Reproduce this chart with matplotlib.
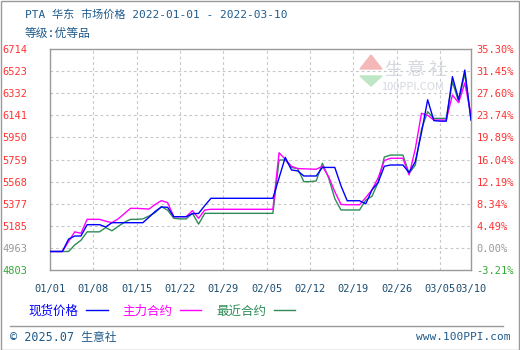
import numpy as np
import pandas as pd
import matplotlib
matplotlib.use('Agg')
import matplotlib.pyplot as plt
from matplotlib.patches import Rectangle, Polygon
from matplotlib.lines import Line2D

plt.rcParams['font.family'] = ['Noto Sans CJK SC', 'DejaVu Sans']
MONO = ['DejaVu Sans Mono', 'Noto Sans CJK SC']

# daily values 2022-01-01 .. 2022-03-10
dates = pd.date_range('2022-01-01', '2022-03-10', freq='D')
spot = [4963, 4963, 4963, 5070, 5097, 5097, 5195, 5195, 5195, 5175,
        5212, 5212, 5212, 5212, 5212, 5212, 5260, 5310, 5348, 5345,
        5264, 5264, 5264, 5290, 5292, 5360,
        5423, 5423, 5423, 5423, 5423, 5423, 5423, 5423, 5423, 5423, 5423,
        5600, 5777, 5668, 5660, 5616, 5616, 5616, 5690, 5690, 5690,
        5531, 5402, 5402, 5402, 5375, 5495,
        5560, 5700, 5711, 5711, 5711, 5645,
        5740, 5990, 6275, 6095, 6090, 6090, 6475, 6275, 6532, 6100]
main = [4963, 4963, 4963, 5050, 5133, 5120, 5241, 5241, 5241, 5225,
        5212, 5245, 5290, 5336, 5336, 5333, 5330, 5370, 5403, 5385,
        5264, 5264, 5264, 5316, 5250, 5322,
        5328, 5328, 5328, 5328, 5328, 5328, 5328, 5328, 5328, 5328, 5328,
        5817, 5760, 5700, 5680, 5678, 5676, 5674, 5700, 5610, 5480,
        5370, 5367, 5367, 5367, 5430, 5495,
        5600, 5750, 5769, 5769, 5769, 5625,
        5850, 6158, 6140, 6100, 6100, 6100, 6316, 6250, 6420, 6143]
near = [4963, 4963, 4963, 4963, 5020, 5060, 5133, 5133, 5133, 5170,
        5142, 5180, 5215, 5241, 5241, 5245, 5270, 5300, 5351, 5320,
        5250, 5245, 5245, 5293, 5200, 5293,
        5293, 5293, 5293, 5293, 5293, 5293, 5293, 5293, 5293, 5293, 5293,
        5754, 5754, 5690, 5680, 5567, 5567, 5573, 5726, 5600, 5420,
        5322, 5322, 5322, 5322, 5408, 5440,
        5560, 5780, 5797, 5797, 5797, 5639,
        5710, 6020, 6172, 6114, 6114, 6114, 6431, 6258, 6504, 6100]

left_labels = ['4803', '4963', '5185', '5377', '5568', '5759', '5950',
               '6141', '6332', '6523', '6714']
right_labels = ['-3.21%', '0.00%', '4.49%', '8.34%', '12.19%', '16.04%',
                '19.89%', '23.74%', '27.60%', '31.45%', '35.30%']
xtick_dates = pd.to_datetime(['2022-01-01', '2022-01-08', '2022-01-15', '2022-01-22',
                              '2022-01-29', '2022-02-05', '2022-02-12', '2022-02-19',
                              '2022-02-26', '2022-03-05', '2022-03-10'])

W, H = 520, 350
fig = plt.figure(figsize=(W / 100, H / 100), dpi=100)
fig.patch.set_facecolor('white')
ax = fig.add_axes([50 / W, 1 - 270 / H, 421 / W, 221 / H])

ytick = np.linspace(4803, 6714, 11)
ax.set_ylim(4803, 6714)
ax.set_xlim(dates[0], dates[-1])

for y in ytick[1:-1]:
    ax.axhline(y, color='#c8c8c8', lw=0.8, ls=(0, (2.5, 2.5)), zorder=1)
for d in xtick_dates[1:-1]:
    ax.axvline(d, color='#c8c8c8', lw=0.8, ls=(0, (2.5, 2.5)), zorder=1)

ax.plot(dates, near, color='#2e8b57', lw=1.0, label='最近合约', zorder=3)
ax.plot(dates, main, color='#ff00ff', lw=1.0, label='主力合约', zorder=4)
ax.plot(dates, spot, color='#0000ff', lw=1.0, label='现货价格', zorder=5)

for s in ax.spines.values():
    s.set_color('#999999')
    s.set_linewidth(1.0)

ax.set_yticks(ytick)
ax.set_yticklabels(left_labels, family=MONO, fontsize=7.5)
ax.tick_params(axis='y', length=0, pad=16)
for lab, c in zip(ax.get_yticklabels(), ['#33aa33', '#999999'] + ['#ff3333'] * 9):
    lab.set_color(c)

ax2 = ax.twinx()
ax2.set_ylim(4803, 6714)
ax2.set_yticks(ytick)
ax2.set_yticklabels(right_labels, family=MONO, fontsize=7.5)
ax2.tick_params(axis='y', length=0, pad=4)
for lab, c in zip(ax2.get_yticklabels(), ['#33aa33', '#999999'] + ['#ff3333'] * 9):
    lab.set_color(c)
for s in ax2.spines.values():
    s.set_visible(False)

ax.set_xticks(xtick_dates)
ax.set_xticklabels([d.strftime('%m/%d') for d in xtick_dates], family=MONO, fontsize=7.5)
ax.tick_params(axis='x', length=0, pad=10, labelcolor='#1c4e72')

# title
fig.text(25 / W, 1 - 15 / H, 'PTA 华东 市场价格 2022-01-01 - 2022-03-10',
         color='#1e5b8c', fontsize=8, family=MONO, va='center', ha='left')
fig.text(25 / W, 1 - 34 / H, '等级:优等品', color='#1e5b8c', fontsize=8.5,
         family=MONO, va='center', ha='left')

# watermark
ax.text(0.87, 0.905, '生 意 社', transform=ax.transAxes, fontsize=13,
        color='#d4d8e0', ha='center', va='center', zorder=2)
ax.text(0.86, 0.83, '100PPI.COM', transform=ax.transAxes, fontsize=8,
        color='#d4d8e0', ha='center', va='center', zorder=2)
fig.patches.append(Polygon([[371 / W, 1 - 55 / H], [360 / W, 1 - 69 / H], [382 / W, 1 - 69 / H]],
                           closed=True, transform=fig.transFigure, color='#f4b8b8', zorder=2))
fig.patches.append(Polygon([[360 / W, 1 - 76 / H], [382 / W, 1 - 76 / H], [371 / W, 1 - 86 / H]],
                           closed=True, transform=fig.transFigure, color='#bfe6c4', zorder=2))

# legend (text before line)
handles, labels = ax.get_legend_handles_labels()
order = [2, 1, 0]
leg = fig.legend([handles[i] for i in order], [labels[i] for i in order],
                 loc='center left', bbox_to_anchor=(20 / W, 1 - 311 / H), ncol=3,
                 frameon=False, markerfirst=False, fontsize=9, handlelength=1.7,
                 handletextpad=0.6, columnspacing=1.2, borderpad=0.2)
for t, c in zip(leg.get_texts(), ['#0000ff', '#ff00ff', '#2e8b57']):
    t.set_color(c)

# footer
fig.add_artist(Line2D([10 / W, 503 / W], [1 - 326 / H, 1 - 326 / H],
                      color='#999999', lw=1.0, transform=fig.transFigure))
fig.text(10 / W, 1 - 337 / H, '© 2025.07 生意社', color='#1e5b8c', fontsize=8.5,
         family=MONO, va='center', ha='left')
fig.text(510 / W, 1 - 337 / H, 'www.100PPI.com', color='#1e5b8c', fontsize=8,
         family=MONO, va='center', ha='right')

fig.add_artist(Rectangle((0.5 / W, 0.5 / H), (W - 1.5) / W, (H - 1.5) / H, fill=False,
                         edgecolor='#999999', lw=1.0, transform=fig.transFigure))

fig.savefig('out.png', dpi=100, facecolor='white')
